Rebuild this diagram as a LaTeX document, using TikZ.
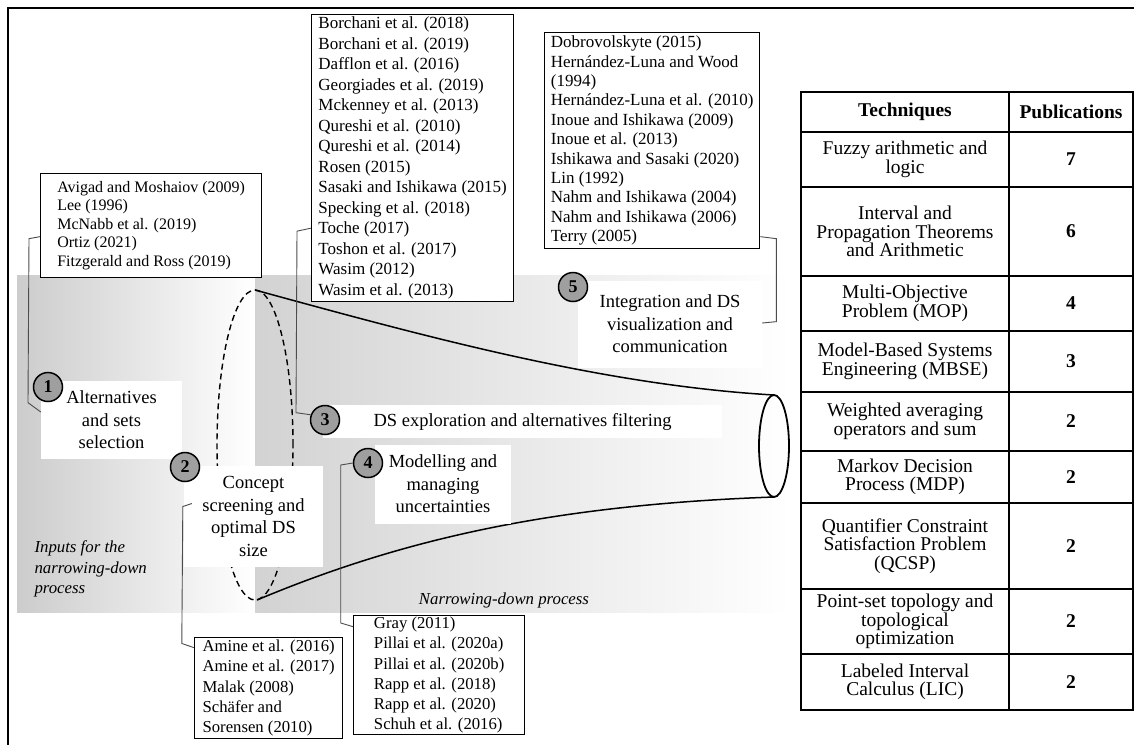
\documentclass[tikz,border=0pt]{standalone}
\usepackage{fontspec}
\setmainfont{Liberation Serif}
\usetikzlibrary{calc}

\begin{document}
\begin{tikzpicture}[x=1pt, y=-1pt,
  refbox/.style={draw, line width=1.3pt, fill=white, anchor=north west, align=left, inner sep=0pt},
  stagebox/.style={fill=white, inner sep=0pt, align=center, font=\fontsize{18.5}{22.5}\selectfont},
  stepnum/.style={circle, draw, line width=1.5pt, fill=gray!75, minimum size=29pt, inner sep=0pt, font=\fontsize{18}{18}\selectfont\bfseries},
  conn/.style={draw=black!70, line width=0.9pt},
  cell/.style={align=center, font=\fontsize{19.5}{18.5}\selectfont},
  note/.style={font=\fontsize{16.8}{20.7}\selectfont\itshape}]
  \useasboundingbox (0,0) rectangle (1134,745);

  \shade[left color=gray!40, right color=white] (17,275) rectangle (255,612);
  \shade[left color=gray!35, right color=white] (255,275) rectangle (790,612);

  \draw[line width=1.8pt] (1134,8) -- (8,8) -- (8,745);

  \coordinate (mouthtop) at (255,290);
  \coordinate (mouthbot) at (257,600);
  \coordinate (tiptop) at (774,395);
  \coordinate (tipbot) at (774,497);

  \draw[line width=1.4pt, dash pattern=on 6pt off 4pt] (255,445) ellipse [x radius=38pt, y radius=155pt];
  \draw[line width=1.8pt] (774,446) ellipse [x radius=15pt, y radius=51pt];
  \draw[line width=1.5pt] (mouthtop) .. controls (420,335) and (600,385) .. (tiptop);
  \draw[line width=1.5pt] (mouthbot) .. controls (400,540) and (550,505) .. (tipbot);

  \node[stagebox, minimum width=141pt, minimum height=78pt] (lab1) at (111.5,420) {Alternatives\\and sets\\selection};
  \node[stagebox, minimum width=139pt, minimum height=101pt] (lab2) at (253.5,516.5) {Concept\\screening and\\optimal DS\\size};
  \node[stagebox, minimum width=399pt, minimum height=33pt] (lab3) at (522.5,421.5) {DS exploration and alternatives filtering};
  \node[stagebox, minimum width=136pt, minimum height=79pt] (lab4) at (443,484) {Modelling and\\managing\\uncertainties};
  \node[stagebox, minimum width=184pt, minimum height=87pt] (lab5) at (670,324) {Integration and DS\\visualization and\\communication};

  \node[note, anchor=west, align=left] (inputs) at (31,569) {Inputs for the\\narrowing-down\\process};
  \node[note] (narrowing) at (504,600) {Narrowing-down process};

  \node[stepnum] (c1) at (48,387) {1};
  \node[stepnum] (c2) at (185,467) {2};
  \node[stepnum] (c3) at (325,420) {3};
  \node[stepnum] (c4) at (368,463) {4};
  \node[stepnum] (c5) at (573,287) {5};

  \node[refbox, font=\fontsize{16}{18.5}\selectfont, minimum width=221pt, minimum height=104pt] (refA) at (40,173)
    {Avigad and Moshaiov (2009)\\Lee (1996)\\McNabb et al. (2019)\\Ortiz (2021)\\Fitzgerald and Ross (2019)};
  \node[refbox, font=\fontsize{17}{20.5}\selectfont, minimum width=202pt, minimum height=287pt] (refB) at (311,14)
    {Borchani et al. (2018)\\Borchani et al. (2019)\\Dafflon et al. (2016)\\Georgiades et al. (2019)\\Mckenney et al. (2013)\\Qureshi et al. (2010)\\Qureshi et al. (2014)\\Rosen (2015)\\Sasaki and Ishikawa (2015)\\Specking et al. (2018)\\Toche (2017)\\Toshon et al. (2017)\\Wasim (2012)\\Wasim et al. (2013)};
  \node[refbox, font=\fontsize{17}{19.4}\selectfont, minimum width=215pt, minimum height=216pt] (refC) at (544,32)
    {Dobrovolskyte (2015)\\Hernández-Luna and Wood\\(1994)\\Hernández-Luna et al. (2010)\\Inoue and Ishikawa (2009)\\Inoue et al. (2013)\\Ishikawa and Sasaki (2020)\\Lin (1992)\\Nahm and Ishikawa (2004)\\Nahm and Ishikawa (2006)\\Terry (2005)};
  \node[refbox, font=\fontsize{16.7}{20.3}\selectfont, minimum width=148pt, minimum height=101pt] (refD) at (194,637)
    {Amine et al. (2016)\\Amine et al. (2017)\\Malak (2008)\\Schäfer and\\Sorensen (2010)};
  \node[refbox, font=\fontsize{16.7}{20.2}\selectfont, minimum width=171pt, minimum height=119pt] (refE) at (353,615)
    {Gray (2011)\\Pillai et al. (2020a)\\Pillai et al. (2020b)\\Rapp et al. (2018)\\Rapp et al. (2020)\\Schuh et al. (2016)};

  \draw[conn] ($(refA.west)+(0,11)$) -- ++(-11,2) -- ++(-1,164) -- ($(lab1.west)+(0,-8)$);
  \draw[conn] ($(refB.west)+(0,70)$) -- ++(-14,3) -- ++(-1,181.5) -- (c3.160);
  \draw[conn] ($(refC.east)+(0,96)$) -- ++(16,2) -- ++(0,83) -- ($(lab5.east)+(0,-1)$);
  \draw[conn] ($(lab2.west)+(8,-13)$) -- ++(-9,3) -- ++(-1,137) -- ($(refD.west)+(0,-40.5)$);
  \draw[conn] (c4.west) -- ++(-12,2) -- ++(0,158) -- ($(refE.west)+(0,-48.5)$);

  % table of techniques
  \draw[line width=1.3pt] (801,92) rectangle (1133,710);
  \draw[line width=1.3pt] (1009,92) -- (1009,710);
  \foreach \y in {132,187,276,331,392,451,503,589,654}
    \draw[line width=1.3pt] (801,\y) -- (1133,\y);
  \node[cell, font=\fontsize{19.5}{18.5}\selectfont\bfseries] (hdtech) at (905,112) {Techniques};
  \node[cell, font=\fontsize{19.5}{18.5}\selectfont\bfseries] (hdpub) at (1071,112) {Publications};
  \foreach \ya/\yb/\tech/\pub [count=\i] in {
      132/187/{Fuzzy arithmetic and\\logic}/7,
      187/276/{Interval and\\Propagation Theorems\\and Arithmetic}/6,
      276/331/{Multi-Objective\\Problem (MOP)}/4,
      331/392/{Model-Based Systems\\Engineering (MBSE)}/3,
      392/451/{Weighted averaging\\operators and sum}/2,
      451/503/{Markov Decision\\Process (MDP)}/2,
      503/589/{Quantifier Constraint\\Satisfaction Problem\\(QCSP)}/2,
      589/654/{Point-set topology and\\topological\\optimization}/2,
      654/710/{Labeled Interval\\Calculus (LIC)}/2}{
    \node[cell] (tech\i) at (905,{(\ya+\yb)/2}) {\tech};
    \node[cell, font=\fontsize{19.5}{18.5}\selectfont\bfseries] (pub\i) at (1071,{(\ya+\yb)/2}) {\pub};
  }
\end{tikzpicture}
\end{document}
